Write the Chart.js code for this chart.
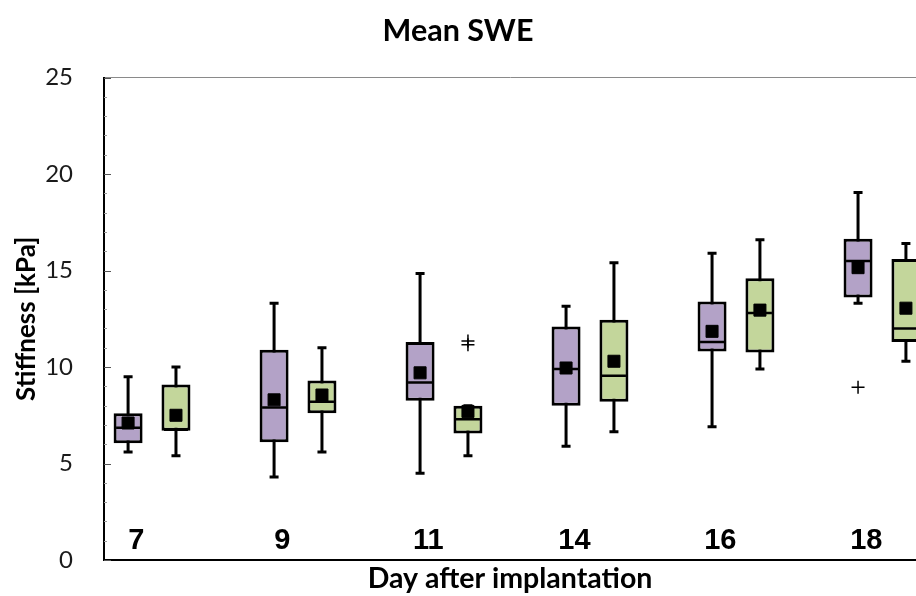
<!DOCTYPE html>
<html>
<head>
<meta charset="utf-8">
<script src="https://cdn.jsdelivr.net/npm/chart.js@4"></script>
<style>
  body { margin: 0; background: #fff; }
  #wrap { width: 916px; height: 596px; }
</style>
</head>
<body>
<div id="wrap"><canvas id="swe" width="916" height="596"></canvas></div>
<script>
const days = ["7", "9", "11", "14", "16", "18"];

// purple group
const purpleMin = [5.6, 4.3, 4.5, 5.9, 6.9, 13.3];
const purpleQ1 = [6.05, 6.1, 8.25, 8.0, 10.8, 13.6];
const purpleMedian = [6.85, 7.9, 9.2, 9.9, 11.3, 15.5];
const purpleQ3 = [7.6, 10.9, 11.3, 12.1, 13.4, 16.65];
const purpleMax = [9.5, 13.3, 14.85, 13.15, 15.9, 19.05];
const purpleMean = [7.1, 8.3, 9.7, 9.95, 11.85, 15.15];
const purpleOutliers = [[], [], [], [], [], [8.95]];

// green group
const greenMin = [5.4, 5.6, 5.4, 6.65, 9.9, 10.3];
const greenQ1 = [6.7, 7.6, 6.55, 8.2, 10.75, 11.3];
const greenMedian = [6.75, 8.2, 7.3, 9.55, 12.8, 12.0];
const greenQ3 = [9.1, 9.3, 8.0, 12.45, 14.6, 15.6];
const greenMax = [10.0, 11.0, 8.0, 15.4, 16.6, 16.4];
const greenMean = [7.5, 8.55, 7.7, 10.3, 12.95, 13.05];
const greenOutliers = [[], [], [11.15, 11.35], [], [], []];

const yTicks = [0, 5, 10, 15, 20, 25];

const OFF = 0.164; // half the gap between the two boxes of a day
const PURPLE = "#b3a2c7";
const GREEN = "#c3d69b";

function boxSets(min, q1, med, q3, max, mean, outl, shift, color) {
  const xs = days.map((d, i) => i + shift);
  const pts = (arr) => arr.map((v, i) => ({ x: xs[i], y: v }));
  return [
    {
      type: "bar",
      data: xs.map((x, i) => ({ x, y: [min[i], max[i]] })),
      backgroundColor: "#000",
      borderWidth: 0,
      maxBarThickness: 3,
      grouped: false,
      order: 5,
    },
    {
      type: "bar",
      data: xs.map((x, i) => ({ x, y: [q1[i], q3[i]] })),
      backgroundColor: color,
      borderColor: "#000",
      borderWidth: 3,
      borderSkipped: false,
      maxBarThickness: 29,
      grouped: false,
      order: 4,
    },
    {
      type: "scatter",
      data: pts(min).concat(pts(max)),
      pointStyle: "line",
      radius: 4.5,
      borderWidth: 3,
      borderColor: "#000",
      order: 3,
    },
    {
      type: "scatter",
      data: pts(med),
      pointStyle: "line",
      radius: 12,
      borderWidth: 2.5,
      borderColor: "#000",
      order: 3,
    },
    {
      type: "scatter",
      data: pts(mean),
      pointStyle: "rect",
      radius: 8.5,
      backgroundColor: "#000",
      borderColor: "#000",
      borderWidth: 1,
      order: 1,
    },
    {
      type: "scatter",
      data: outl.flatMap((arr, i) => arr.map((v) => ({ x: xs[i], y: v }))),
      pointStyle: "cross",
      radius: 6.5,
      borderWidth: 1.5,
      borderColor: "#000",
      order: 1,
    },
  ];
}

// small tick marks on the inside of the value axis
const innerTicks = {
  id: "innerTicks",
  beforeDatasetsDraw(chart) {
    const { ctx, chartArea, scales } = chart;
    ctx.save();
    ctx.lineWidth = 1;
    for (let v = 0; v <= 25; v++) {
      const py = Math.round(scales.y.getPixelForValue(v)) + 0.5;
      const major = v % 5 === 0;
      ctx.strokeStyle = major ? "#555" : "#999";
      ctx.beginPath();
      ctx.moveTo(chartArea.left, py);
      ctx.lineTo(chartArea.left + (major ? 7 : 3), py);
      ctx.stroke();
    }
    ctx.restore();
  },
};

new Chart(document.getElementById("swe"), {
  type: "bar",
  data: {
    datasets: [
      ...boxSets(purpleMin, purpleQ1, purpleMedian, purpleQ3, purpleMax, purpleMean, purpleOutliers, -OFF, PURPLE),
      ...boxSets(greenMin, greenQ1, greenMedian, greenQ3, greenMax, greenMean, greenOutliers, OFF, GREEN),
    ],
  },
  options: {
    responsive: false,
    animation: false,
    events: [],
    layout: { padding: 0, autoPadding: false },
    plugins: {
      legend: { display: false },
      tooltip: { enabled: false },
      title: {
        display: true,
        text: "Mean SWE",
        color: "#000",
        font: { family: "Lato", size: 30.5, weight: "bold" },
        padding: { top: 13, bottom: 28 },
      },
    },
    scales: {
      x: {
        type: "linear",
        offset: false,
        min: -0.329,
        max: 5.233,
        grid: { display: false, drawTicks: false },
        border: { display: true, color: "#000", width: 2 },
        afterBuildTicks: (scale) => {
          scale.ticks = days.map((d, i) => ({ value: i - 0.107 }));
        },
        afterFit: (scale) => {
          scale.height = 36;
        },
        ticks: {
          mirror: true,
          padding: 2,
          color: "#000",
          font: { family: "'Liberation Sans', Arial, sans-serif", size: 29, weight: "bold" },
          callback: (v, idx) => days[idx],
        },
        title: {
          display: true,
          text: "Day after implantation",
          color: "#000",
          font: { family: "Lato", size: 28.5, weight: "bold" },
          padding: { top: 0, bottom: 0 },
        },
      },
      y: {
        min: 0,
        max: 25,
        afterBuildTicks: (scale) => {
          scale.ticks = yTicks.map((v) => ({ value: v }));
        },
        afterFit: (scale) => {
          scale.width = 104;
          scale.paddingTop = 0;
          scale.paddingBottom = 0;
        },
        grid: {
          drawTicks: false,
          color: (c) => (c.tick && c.tick.value === 25 ? "#8a8a8a" : "rgba(0,0,0,0)"),
        },
        border: { display: true, color: "#000", width: 2 },
        ticks: {
          padding: 31,
          color: "#1a1a1a",
          font: { family: "Lato", size: 24 },
        },
        title: {
          display: true,
          text: "Stiffness [kPa]",
          color: "#000",
          font: { family: "Lato", size: 26, weight: "bold" },
          padding: { top: 11, bottom: 0 },
        },
      },
    },
  },
  plugins: [innerTicks],
});
</script>
</body>
</html>
